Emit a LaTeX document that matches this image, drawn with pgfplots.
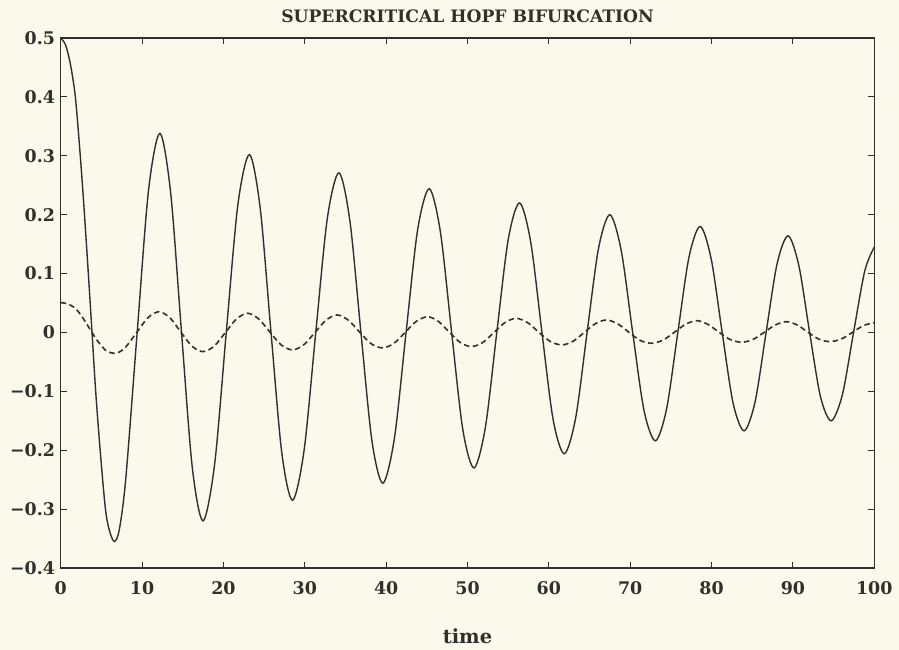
\documentclass[border=0pt]{standalone}
\usepackage{pgfplots}
\pgfplotsset{compat=1.18}
\usepackage{fontspec}
\setmainfont{DejaVu Serif}
\definecolor{paper}{RGB}{249,249,236}
\definecolor{ink}{RGB}{48,48,44}

% solid curve: first state variable
\pgfplotstableread{
t x
0 0.500
0.6 0.488
1.2 0.455
1.8 0.400
2.35 0.310
2.8 0.225
3.35 0.110
3.85 0.000
4.3 -0.100
4.85 -0.200
5.5 -0.300
6.0 -0.337
6.6 -0.355
7.2 -0.335
8.0 -0.248
9.4 0.000
10.8 0.242
12.2 0.338
13.525 0.2358
14.85 0.000
16.175 -0.2295
17.5 -0.320
18.925 -0.2231
20.35 0.000
21.775 0.2167
23.2 0.302
24.525 0.2105
25.85 0.000
27.175 -0.2045
28.5 -0.285
29.925 -0.1991
31.35 0.000
32.775 0.1941
34.2 0.271
35.55 0.1890
36.9 0.000
38.25 -0.1837
39.6 -0.256
41.025 -0.1789
42.45 0.000
43.875 0.1747
45.3 0.244
46.675 0.1701
48.05 0.000
49.425 -0.1651
50.8 -0.230
52.2 -0.1609
53.6 0.000
55.0 0.1573
56.4 0.220
57.775 0.1531
59.15 0.000
60.525 -0.1481
61.9 -0.206
63.3 -0.1446
64.7 0.000
66.1 0.1425
67.5 0.200
68.9 0.1386
70.3 0.000
71.7 -0.1329
73.1 -0.184
74.475 -0.1294
75.85 0.000
77.225 0.1280
78.6 0.180
79.95 0.1250
81.3 0.000
82.65 -0.1204
84.0 -0.167
85.35 -0.1176
86.7 0.000
88.05 0.1165
89.4 0.164
90.725 0.1135
92.05 0.000
93.375 -0.1085
94.7 -0.150
96.075 -0.1057
97.45 0.000
98.825 0.1043
100 0.145
}\solid

% dashed curve: second state variable
\pgfplotstableread{
t y
0 0.0506
0.6 0.0495
1.2 0.0463
1.8 0.0410
2.35 0.0320
2.8 0.0230
3.35 0.0110
3.85 0.0000
4.3 -0.0100
4.85 -0.0200
5.5 -0.0300
6.0 -0.0337
6.6 -0.0354
7.2 -0.0333
7.975 -0.0250
9.35 0.0000
10.725 0.0250
12.1 0.0353
13.45 0.0245
14.8 0.0000
16.15 -0.0235
17.5 -0.0326
18.875 -0.0231
20.25 0.0000
21.625 0.0231
23.0 0.0326
24.375 0.0225
25.75 0.0000
27.125 -0.0215
28.5 -0.0297
29.875 -0.0210
31.25 0.0000
32.625 0.0210
34.0 0.0297
35.39 0.0204
36.78 0.0000
38.16 -0.0192
39.55 -0.0263
40.94 -0.0187
42.33 0.0000
43.71 0.0189
45.1 0.0268
46.45 0.0185
47.8 0.0000
49.15 -0.0175
50.5 -0.0240
51.875 -0.0170
53.25 0.0000
54.625 0.0170
56.0 0.0240
57.4 0.0165
58.8 0.0000
60.2 -0.0155
61.6 -0.0212
62.975 -0.0150
64.35 0.0000
65.725 0.0150
67.1 0.0212
68.475 0.0145
69.85 0.0000
71.225 -0.0135
72.6 -0.0184
74.0 -0.0133
75.4 0.0000
76.8 0.0139
78.2 0.0200
79.575 0.0135
80.95 0.0000
82.325 -0.0123
83.7 -0.0166
85.075 -0.0120
86.45 0.0000
87.825 0.0126
89.2 0.0183
90.54 0.0125
91.88 0.0000
93.21 -0.0115
94.55 -0.0156
95.93 -0.0112
97.3 0.0000
98.68 0.0117
100 0.0167
}\dashed

\begin{document}
\begin{tikzpicture}
\fill[paper] (-60.7bp,-82bp) rectangle (838.3bp,568bp);
\begin{axis}[
  name=ax,
  scale only axis,
  width=813.6bp, height=530bp,
  xmin=0, xmax=100, ymin=-0.4, ymax=0.5,
  axis line style={ink, line width=1.4bp},
  tick style={ink, line width=1.1bp},
  major tick length=6.5bp,
  tick align=inside,
  xtick={0,10,20,30,40,50,60,70,80,90,100},
  xticklabels={0,10,20,30,40,50,60,70,80,90,100},
  ytick={-0.4,-0.3,-0.2,-0.1,0,0.1,0.2,0.3,0.4,0.5},
  yticklabels={−0.4,−0.3,−0.2,−0.1,0,0.1,0.2,0.3,0.4,0.5},
  ticklabel style={font=\bfseries\fontsize{17.5}{19}\selectfont, text=ink, inner sep=0pt},
  xticklabel style={anchor=base, yshift=-26.5bp},
  yticklabel style={anchor=east, xshift=-5.5bp},
  every axis title shift=0pt,
  title={SUPERCRITICAL HOPF BIFURCATION},
  title style={at={(axis description cs:0.5,1)}, anchor=base, yshift=15.3bp,
    inner sep=0pt, font=\bfseries\fontsize{17.2}{20}\selectfont, text=ink},
  xlabel={time},
  xlabel style={at={(axis description cs:0.5,0)}, anchor=base, yshift=-75bp,
    inner sep=0pt, font=\bfseries\fontsize{19.5}{24}\selectfont, text=ink},
]
\addplot[ink, line width=1.4bp, smooth] table[x=t, y=x] {\solid};
\addplot[ink, line width=1.6bp, smooth, dash pattern=on 5.5bp off 3.5bp] table[x=t, y=y] {\dashed};
\end{axis}
\pgfresetboundingbox
\path[use as bounding box] (-60.7bp,-82bp) rectangle (838.3bp,568bp);
\end{tikzpicture}
\end{document}
